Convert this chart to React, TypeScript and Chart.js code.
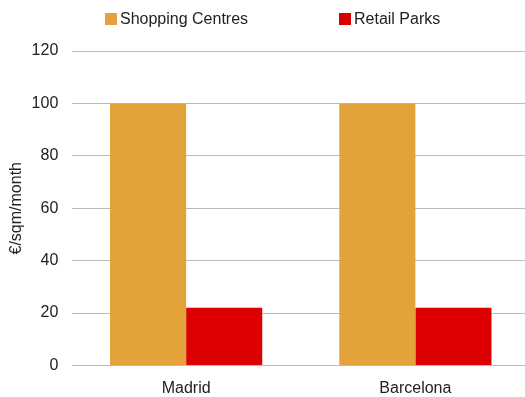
import React, { useEffect, useRef } from 'react';
import { Chart, registerables } from 'chart.js';

Chart.register(...registerables);

const categories = ['Madrid', 'Barcelona'];
const seriesNames = ['Shopping Centres', 'Retail Parks'];
const shoppingCentres = [100, 100];
const retailParks = [22, 22];
const yTicks = [0, 20, 40, 60, 80, 100, 120];
const yTitle = '€/sqm/month';

const FONT = "'Liberation Sans', Arial, sans-serif";
const TEXT = '#222222';
const COLORS = ['#E3A23A', '#DD0000'];

const legendPlugin = {
  id: 'topLegend',
  afterDraw(chart: any) {
    const ctx = chart.ctx;
    const items = chart.data.datasets.map((d: any) => ({ text: d.label, color: d.backgroundColor }));
    ctx.save();
    ctx.font = `16px ${FONT}`;
    const box = 12;
    const gapText = 3;
    const gapItem = 91;
    const widths = items.map((it: any) => box + gapText + ctx.measureText(it.text).width);
    const total = widths.reduce((a: number, b: number) => a + b, 0) + gapItem * (items.length - 1);
    let x = Math.round(273 - total / 2);
    const boxTop = 13;
    const cy = 19.5;
    items.forEach((it: any, i: number) => {
      ctx.fillStyle = it.color;
      ctx.fillRect(x, boxTop, box, box);
      ctx.fillStyle = TEXT;
      ctx.textBaseline = 'middle';
      ctx.textAlign = 'left';
      ctx.fillText(it.text, x + box + gapText, cy);
      x = Math.round(x + widths[i] + gapItem);
    });
    ctx.restore();
  },
};

export default function App() {
  const ref = useRef<HTMLCanvasElement | null>(null);

  useEffect(() => {
    if (!ref.current) return;
    const chart = new Chart(ref.current, {
      type: 'bar',
      data: {
        labels: categories,
        datasets: [
          { label: seriesNames[0], data: shoppingCentres, backgroundColor: COLORS[0] },
          { label: seriesNames[1], data: retailParks, backgroundColor: COLORS[1] },
        ],
      },
      options: {
        animation: false,
        responsive: true,
        maintainAspectRatio: false,
        layout: { padding: { top: 51, left: 3, right: 0, bottom: 0 } },
        datasets: {
          bar: { categoryPercentage: 0.664, barPercentage: 1.0 },
        },
        plugins: {
          legend: { display: false },
          tooltip: { enabled: false },
        },
        scales: {
          x: {
            grid: { display: false, drawTicks: false },
            border: { display: false },
            ticks: { color: TEXT, font: { family: FONT, size: 16 }, padding: 13.5 },
            afterFit(scale: any) {
              scale.height = 31.5;
            },
          },
          y: {
            min: yTicks[0],
            max: yTicks[yTicks.length - 1],
            grid: { color: '#bbbbbb', drawTicks: false, lineWidth: 1 },
            border: { display: false },
            ticks: {
              stepSize: yTicks[1] - yTicks[0],
              color: TEXT,
              font: { family: FONT, size: 16 },
              padding: 13.2,
            },
            title: {
              display: true,
              text: yTitle,
              color: TEXT,
              font: { family: FONT, size: 16 },
              padding: { top: 4, bottom: 4 },
            },
            afterFit(scale: any) {
              scale.width = 68.5;
            },
          },
        },
      },
      plugins: [legendPlugin],
    });
    return () => chart.destroy();
  }, []);

  return (
    <div style={{ position: 'fixed', left: 0, top: 0, width: 525, height: 397, overflow: 'hidden', background: '#fff' }}>
      <div style={{ position: 'relative', width: 530, height: 397 }}>
        <canvas ref={ref} />
      </div>
    </div>
  );
}
